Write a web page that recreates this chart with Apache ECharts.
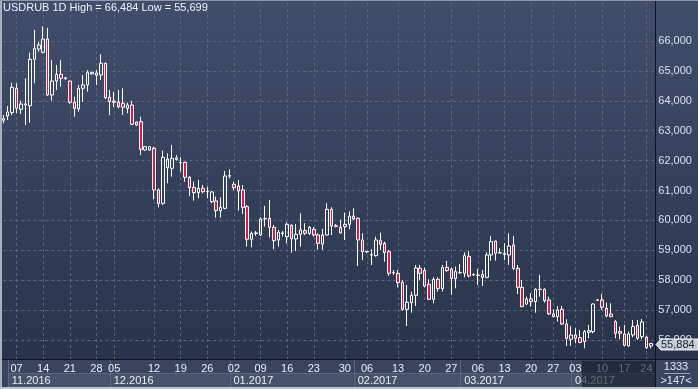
<!DOCTYPE html>
<html><head><meta charset="utf-8">
<script src="https://cdn.jsdelivr.net/npm/echarts@6/dist/echarts.min.js"></script>
<style>html,body{margin:0;padding:0;background:#2e3a52;}#c{width:698px;height:389px;}</style>
</head><body><div id="c"></div>
<script>
// ---- data (USDRUB daily, rubles) ----
const open = [63.350,63.492,63.602,64.418,63.716,63.860,63.836,65.388,65.732,65.622,66.067,64.194,64.662,64.886,64.740,64.662,63.950,63.727,64.418,64.529,64.900,64.930,64.863,65.254,64.117,63.990,63.960,63.916,63.750,63.860,63.290,63.302,62.355,62.355,62.411,61.017,60.571,61.760,61.742,62.040,61.925,61.942,61.441,61.106,60.928,61.073,60.960,60.627,60.650,60.326,60.404,61.480,61.207,61.151,61.017,60.460,59.367,59.560,59.512,60.050,60.070,59.769,59.345,59.560,59.457,59.836,59.379,59.535,59.658,59.568,59.702,59.512,59.211,59.512,60.371,59.800,59.769,59.791,59.869,60.148,60.070,59.345,58.950,58.840,58.821,59.323,59.234,58.955,58.250,58.230,57.929,57.026,57.249,57.495,58.397,58.330,57.862,57.361,58.030,57.717,58.431,58.375,58.052,58.250,58.230,58.799,58.180,58.160,58.186,58.096,58.843,59.311,58.910,58.860,58.843,59.178,58.397,57.762,57.205,57.372,57.283,57.690,57.696,57.339,56.871,56.782,57.026,56.536,56.024,56.168,56.079,55.945,56.257,56.280,57.330,57.339,57.060,56.871,56.614,56.280,56.202,55.800,56.168,56.492,56.112,56.090,55.800];
const close = [63.400,63.626,64.452,63.750,63.893,63.900,65.388,65.743,65.866,66.067,64.194,64.662,64.886,64.753,64.770,63.950,63.750,64.418,64.529,64.953,64.950,64.853,65.254,64.104,63.971,63.950,63.804,63.783,63.860,63.214,63.190,62.378,62.466,62.466,61.017,60.571,62.110,62.050,62.076,62.090,61.935,61.441,61.095,60.928,61.073,60.962,60.970,60.950,60.326,60.438,61.485,61.500,61.095,60.984,60.437,59.367,59.568,59.580,60.047,60.060,59.769,59.323,59.602,59.580,59.869,59.379,59.535,59.680,59.568,59.769,59.512,59.234,59.512,60.371,59.813,59.820,59.580,59.869,60.140,60.047,59.345,58.955,58.960,58.850,59.345,59.200,58.922,58.230,58.260,57.918,57.026,57.260,57.495,58.409,58.230,57.807,57.361,58.030,57.717,58.420,58.320,58.052,58.286,58.260,58.821,58.141,58.190,58.170,58.096,58.843,59.289,58.899,58.920,58.900,59.144,58.397,57.762,57.116,57.372,57.283,57.696,57.700,57.316,56.871,56.782,57.005,56.536,56.057,56.168,56.057,55.923,56.280,56.313,57.205,57.340,57.094,56.804,56.782,56.224,56.224,55.823,56.202,56.447,56.057,56.603,55.745,55.884];
const low = [63.246,63.358,63.525,63.582,63.559,63.191,63.268,64.586,65.642,65.589,64.161,64.004,64.361,64.473,64.700,63.900,63.470,63.637,63.971,64.306,64.880,64.529,64.696,64.060,63.525,63.783,63.750,63.525,63.582,63.191,63.160,62.188,62.330,62.330,60.705,60.438,60.516,61.240,61.463,61.998,61.630,61.296,60.817,60.660,60.739,60.906,60.739,60.571,60.092,60.092,60.371,61.407,61.017,60.326,60.215,59.122,59.100,59.490,59.479,59.791,59.434,59.033,59.122,59.457,59.234,58.922,58.977,59.122,59.512,59.512,59.457,59.033,59.011,59.490,59.512,59.769,59.568,59.345,59.700,60.014,58.475,58.676,58.899,58.509,58.787,59.011,58.620,58.141,58.175,57.762,56.982,56.469,56.915,57.138,58.007,57.762,57.339,57.227,57.617,57.617,58.286,57.506,57.729,58.208,58.096,58.096,58.141,57.840,57.807,58.063,58.654,58.654,58.899,58.676,58.509,58.342,57.539,57.094,57.172,57.116,56.915,57.450,57.250,56.837,56.759,56.614,56.502,55.800,55.800,55.890,55.890,55.722,56.057,56.224,57.316,57.005,56.759,56.759,56.057,56.024,55.800,55.778,56.090,56.001,56.024,55.699,55.720];
const high = [63.525,63.826,64.606,64.586,64.004,64.753,65.609,66.368,65.977,66.484,66.440,65.365,65.197,65.365,64.790,64.680,64.138,64.529,64.863,65.030,64.980,65.030,65.555,65.280,64.361,64.306,64.361,64.418,63.938,64.004,63.310,63.469,62.490,62.490,62.466,61.073,62.333,62.243,62.522,62.188,62.110,61.965,61.485,61.296,61.352,61.185,61.129,60.984,60.794,60.772,61.653,61.708,61.296,61.352,61.185,60.516,59.624,59.646,60.103,60.482,60.683,59.847,59.680,59.646,59.936,59.869,59.880,60.237,59.902,59.813,59.769,59.568,59.713,60.571,60.438,59.880,60.025,60.259,60.300,60.404,60.103,59.568,58.977,59.033,59.457,59.590,59.289,59.011,58.342,58.342,58.007,57.840,57.617,58.509,58.509,58.420,58.030,58.096,58.096,58.509,58.643,58.420,58.453,58.542,58.932,58.977,58.230,58.375,58.342,58.932,59.479,59.323,59.066,59.234,59.568,59.479,58.509,58.007,57.450,57.562,57.729,58.175,57.729,57.450,57.026,57.138,57.138,56.692,56.469,56.391,56.335,56.335,56.503,57.227,57.372,57.540,57.250,57.227,56.670,56.447,56.503,56.280,56.670,56.670,56.703,56.135,55.900];

// week tick labels (bar index -> day of month)
const tickBars  = [3,9,15,21,25,34,40,46,52,58,64,70,77,82,89,95,101,107,113,119,124,129,135,140,145];
const tickTexts = ['07','14','21','28','05','12','19','26','02','09','16','23','30','06','13','20','27','06','13','20','27','03','10','17','24'];
// month strip
const monthNames    = ['11.2016','12.2016','01.2017','02.2017','03.2017','04.2017'];
const monthFirstBar = [1,24,51,79,103,128];
// price axis labels
const yTicks = [56,57,58,59,60,61,62,63,64,65,66];
const symbol = 'USDRUB', period = '1D';
const infoTop = '1333';

// ---- build ----
const barCount = open.length;
const slots = barCount + 1;
const categories = Array.from({length: slots}, (_, i) => String(i));
const candleData = open.map((o, i) => [o, close[i], low[i], high[i]]);
const fmt = v => v.toFixed(3).replace('.', ',');
const hi = Math.max.apply(null, high), lo = Math.min.apply(null, low);
const tickMap = {};
tickBars.forEach((b, k) => { tickMap[b] = tickTexts[k]; });

const FONT = "'Liberation Sans Narrow','Arial Narrow','Liberation Sans',Arial,sans-serif";
const GRID_TOP = 3, GRID_BOTTOM_Y = 359;
const PX_PER_UNIT = 29.9;        // vertical scale
const yMax = 66 + (41 - GRID_TOP) / PX_PER_UNIT;
const yMin = 56 - (GRID_BOTTOM_Y - 340) / PX_PER_UNIT;

const chart = echarts.init(document.getElementById('c'), null, {renderer: 'canvas'});
chart.setOption({
  animation: false,
  backgroundColor: {type: 'linear', x: 0, y: 0, x2: 0, y2: 1,
    colorStops: [{offset: 0, color: '#414e6b'}, {offset: 0.92, color: '#29344c'}, {offset: 1, color: '#29344c'}]},
  title: {text: symbol + ' ' + period + ' High = ' + fmt(hi) + ' Low = ' + fmt(lo), left: 3, top: 2, padding: 0,
    textStyle: {color: '#eef2f8', fontSize: 11, fontWeight: 'normal', fontFamily: FONT}},
  grid: {left: 3.3, right: 42.7, top: GRID_TOP, bottom: 389 - GRID_BOTTOM_Y},
  xAxis: {type: 'category', data: categories, boundaryGap: false,
    axisLine: {show: false}, axisTick: {show: false},
    axisLabel: {interval: (i) => tickMap[i] !== undefined, formatter: (v, i) => tickMap[i] || '',
      color: '#e8edf4', fontSize: 11, fontFamily: FONT, margin: 4, hideOverlap: false},
    splitLine: {show: true, interval: (i) => tickMap[i] !== undefined,
      lineStyle: {color: '#5a667e', type: [3, 3], width: 1}}},
  yAxis: {type: 'value', position: 'right', min: yMin, max: yMax,
    axisLine: {show: false}, axisTick: {show: false, customValues: yTicks},
    axisLabel: {customValues: yTicks, formatter: (v) => fmt(v), color: '#d4e0ee', fontSize: 11, fontFamily: FONT, margin: 3},
    splitLine: {show: true, lineStyle: {color: '#5a667e', type: [3, 3], width: 1}}},
  series: [{type: 'candlestick', data: candleData, barWidth: 3,
    itemStyle: {color: 'rgba(0,0,0,0)', color0: '#e0183f', borderColor: '#ffffff', borderColor0: '#ffffff', borderWidth: 1}}]
});

// ---- decorations placed through the axis scales ----
const px = (v) => chart.convertToPixel({xAxisIndex: 0}, v);
const py = (v) => chart.convertToPixel({yAxisIndex: 0}, v);
const RIGHT = 655.5, PANEL_Y = 359.5;
const txt = (x, y, s, fill, align, z) => ({type: 'text', x: x, y: y, z: z,
  style: {text: s, fill: fill, font: '11px ' + FONT, align: align, verticalAlign: 'middle',
          textAlign: align, textVerticalAlign: 'middle'}});
const els = [];
els.push({type: 'rect', shape: {x: 0, y: 360, width: 698, height: 29}, style: {fill: '#39455e'}, z: -1});
const seps = monthFirstBar.map(b => px(b - 0.1));
seps.forEach((sx, m) => {
  const ex = m + 1 < seps.length ? seps[m + 1] : RIGHT;
  els.push({type: 'rect', shape: {x: sx, y: 373, width: ex - sx, height: 14}, style: {fill: '#47536b'}, z: -1});
  els.push({type: 'line', shape: {x1: sx, y1: 373.5, x2: ex, y2: 373.5}, style: {stroke: '#5c6881', lineWidth: 1}, z: -1});
  els.push({type: 'line', shape: {x1: Math.round(sx) + 0.5, y1: 360, x2: Math.round(sx) + 0.5, y2: 387}, style: {stroke: '#5c6881', lineWidth: 1}, z: -1});
  els.push(txt(sx + 4, 380.5, monthNames[m], '#e8edf4', 'left', 1));
});
// dimmed region at bottom right
els.push({type: 'rect', shape: {x: 582, y: 361, width: RIGHT - 582, height: 26}, style: {fill: 'rgba(24,31,47,0.66)'}, z: 20});
// frame lines
els.push({type: 'line', shape: {x1: 0, y1: PANEL_Y, x2: 698, y2: PANEL_Y}, style: {stroke: '#0e131d', lineWidth: 1}, z: 30});
els.push({type: 'line', shape: {x1: RIGHT, y1: 0, x2: RIGHT, y2: 389}, style: {stroke: '#0e131d', lineWidth: 1}, z: 30});
els.push({type: 'rect', shape: {x: 0, y: 0, width: 2, height: 389}, style: {fill: '#aab1bd'}, z: 30});
els.push({type: 'rect', shape: {x: 0, y: 387, width: 698, height: 2}, style: {fill: '#bcc2cc'}, z: 30});
els.push({type: 'rect', shape: {x: 0, y: 0, width: 698, height: 1}, style: {fill: '#8f98a8'}, z: 30});
// last price tag
const last = close[barCount - 1];
const yc = Math.round(py(last)) + 1.5;
els.push({type: 'polygon', shape: {points: [[656, yc], [661, yc - 5.5], [698, yc - 5.5], [698, yc + 5.5], [661, yc + 5.5]]},
  style: {fill: '#c8cdd6', stroke: '#eef0f4', lineWidth: 1}, z: 40});
els.push(txt(661, yc, fmt(last), '#1b2231', 'left', 41));
// info box
els.push(txt(676, 367, infoTop, '#e2e8f1', 'center', 40));
els.push({type: 'line', shape: {x1: 664, y1: 373.5, x2: 690, y2: 373.5}, style: {stroke: '#9aa4b5', lineWidth: 1}, z: 40});
els.push(txt(676, 381, '>' + barCount + '<', '#e2e8f1', 'center', 40));
chart.setOption({graphic: {elements: els}});
</script>
</body></html>
